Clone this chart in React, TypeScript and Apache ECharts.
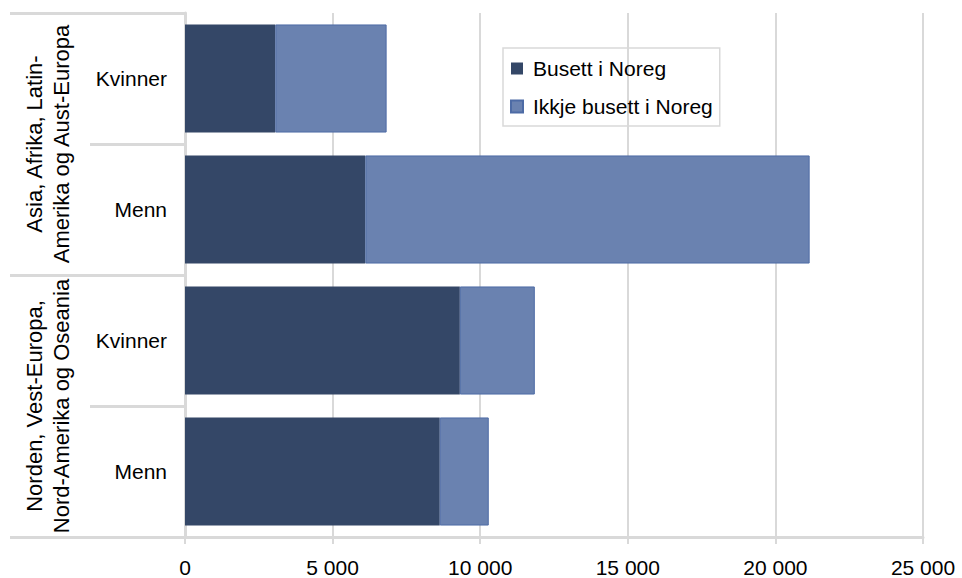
import React, { useEffect, useRef } from "react";
import * as echarts from "echarts";

const categories = ["Kvinner", "Menn", "Kvinner", "Menn"];
const groups = [
  "Asia, Afrika, Latin-\nAmerika og Aust-Europa",
  "Norden, Vest-Europa,\nNord-Amerika og Oseania",
];
const seriesNames = ["Busett i Noreg", "Ikkje busett i Noreg"];
const busett = [3060, 6110, 9310, 8630];
const ikkjeBusett = [3770, 15050, 2540, 1660];
const xTicks = { min: 0, max: 25000, interval: 5000 };

const FONT = "'Liberation Sans', Arial, sans-serif";
const GRID_COLOR = "#d9d9d9";

export default function App() {
  const ref = useRef<HTMLDivElement>(null);
  useEffect(() => {
    if (!ref.current) return;
    const chart = echarts.init(ref.current, undefined, { renderer: "svg" });
    chart.setOption({
      animation: false,
      textStyle: { fontFamily: FONT, color: "#000" },
      grid: { left: 185, right: 39, top: 13, bottom: 41, containLabel: false },
      legend: {
        orient: "vertical",
        left: 503,
        top: 48,
        padding: [10, 7, 9, 7],
        itemGap: 17,
        itemWidth: 12,
        itemHeight: 12,
        borderColor: GRID_COLOR,
        borderWidth: 1.5,
        icon: "rect",
        textStyle: { fontFamily: FONT, fontSize: 21, color: "#000", lineHeight: 20, padding: [0, 0, 0, 5] },
        data: seriesNames,
      },
      xAxis: {
        type: "value",
        min: xTicks.min,
        max: xTicks.max,
        interval: xTicks.interval,
        axisLine: { show: true, lineStyle: { color: GRID_COLOR, width: 3 } },
        axisTick: { show: true, length: 7, lineStyle: { color: GRID_COLOR, width: 2 } },
        splitLine: { show: true, lineStyle: { color: GRID_COLOR, width: 2 } },
        axisLabel: {
          margin: 20,
          fontSize: 21,
          color: "#000",
          fontFamily: FONT,
          formatter: (v: number) => String(v).replace(/\B(?=(\d{3})+(?!\d))/g, " "),
        },
      },
      yAxis: [
        {
          type: "category",
          inverse: true,
          data: categories,
          position: "left",
          axisLine: { show: true, lineStyle: { color: GRID_COLOR, width: 3 } },
          axisTick: { show: true, length: 95, lineStyle: { color: GRID_COLOR, width: 3 } },
          axisLabel: { interval: 0, margin: 18, fontSize: 21, color: "#000", fontFamily: FONT },
        },
        {
          type: "category",
          inverse: true,
          data: groups,
          position: "left",
          axisLine: { show: false },
          axisTick: { show: true, interval: 0, length: 175, lineStyle: { color: GRID_COLOR, width: 3 } },
          axisLabel: {
            interval: 0,
            hideOverlap: false,
            margin: 110,
            rotate: 90,
            fontSize: 22,
            lineHeight: 27,
            color: "#000",
            fontFamily: FONT,
          },
        },
      ],
      series: [
        {
          name: seriesNames[0],
          type: "bar",
          stack: "total",
          yAxisIndex: 0,
          barCategoryGap: "17.5%",
          itemStyle: { color: "#344767" },
          data: busett,
        },
        {
          name: seriesNames[1],
          type: "bar",
          stack: "total",
          yAxisIndex: 0,
          barCategoryGap: "17.5%",
          itemStyle: { color: "#6a82b0", borderColor: "#4d6ba5", borderWidth: 1 },
          data: ikkjeBusett,
        },
      ],
    });
    return () => chart.dispose();
  }, []);
  return (
    <div
      ref={ref}
      style={{ position: "fixed", left: 0, top: 0, width: 962, height: 578, background: "#fff" }}
    />
  );
}
